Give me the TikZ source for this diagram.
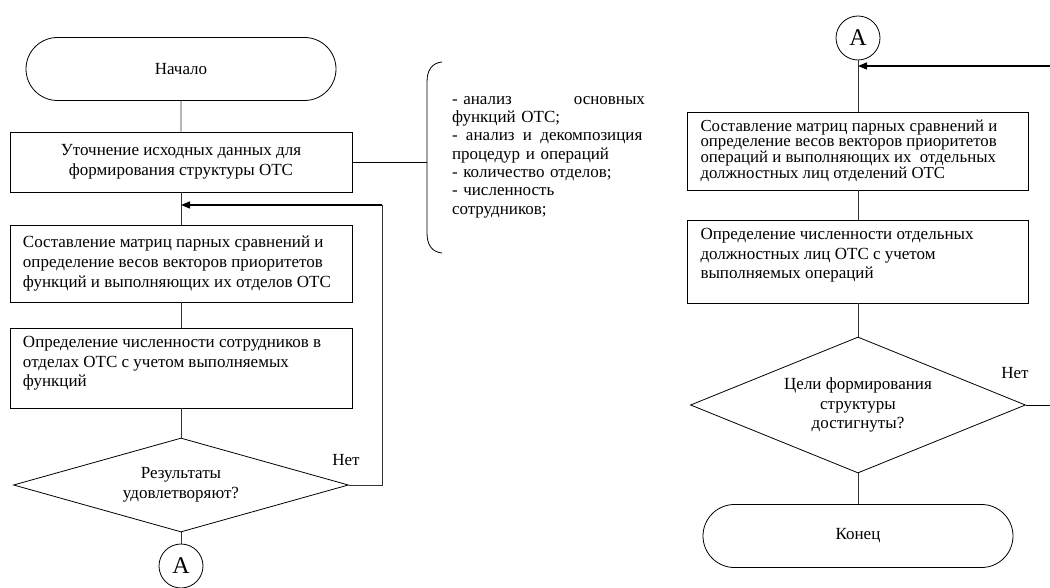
\documentclass[tikz,border=0pt]{standalone}
\usepackage{fontspec}
\setmainfont{Liberation Serif}
\usetikzlibrary{shapes.geometric,shapes.misc,arrows.meta}
\begin{document}
\begin{tikzpicture}[x=1pt,y=-1pt, line width=0.8pt,
  every node/.style={font=\fontsize{17}{19.8}\selectfont},
  term/.style={draw, rounded rectangle, minimum width=310pt, minimum height=63pt, inner sep=0pt},
  box/.style={draw, rectangle, inner sep=0pt},
  dec/.style={draw, diamond, inner sep=0pt, align=center},
  conn/.style={draw, circle, minimum size=44pt, inner sep=0pt, font=\fontsize{24}{26}\selectfont},
  line/.style={draw=black!80, line width=0.9pt},
  arr/.style={-{Triangle[length=9pt,width=7pt]}, line width=1.3pt},
  lbl/.style={inner sep=0pt}]
\useasboundingbox (0,0) rectangle (1050,588);

% left column
\node[term] (start) at (181,69) {Начало};
\node[box, minimum width=342pt, minimum height=60pt, align=center] (b1) at (181,162) {Уточнение исходных данных для\\формирования структуры ОТС};
\node[box, minimum width=342pt, minimum height=77pt] (b2) at (181,263.5) {\parbox{316pt}{\raggedright \mbox{Составление матриц парных сравнений и}\\\mbox{определение весов векторов приоритетов}\\\mbox{функций и выполняющих их отделов ОТС}}};
\node[box, minimum width=342pt, minimum height=80pt] (b3) at (181,368) {\parbox[c][64pt][t]{316pt}{\raggedright \mbox{Определение численности сотрудников в}\\\mbox{отделах ОТС с учетом выполняемых}\\функций}};
\node[dec, minimum width=335pt, minimum height=94pt, aspect=3.56] (d1) at (181,485) {Результаты\\удовлетворяют?};
\node[conn] (a1) at (181,566) {A};
\node[lbl] (n1) at (346,460) {Нет};

% brace and list
\coordinate (bm) at (427,162);
\draw (442,62) .. controls (432,63) and (427,70) .. (427,82) -- (427,233) .. controls (427,245) and (432,252) .. (442,253);
\node[lbl, text width=193pt, align=left, font=\fontsize{17}{18.3}\selectfont] (list) at (548.5,157) {\makebox[193pt][l]{- анализ\hfill основных}\\функций ОТС;\\\makebox[193pt][l]{-\hspace{0pt plus 1fil} анализ\hspace{0pt plus 1fil} и\hspace{0pt plus 1fil} декомпозиция}\\процедур и операций\\- количество отделов;\\- численность\\сотрудников;};

% right column
\node[conn] (a2) at (858,38) {A};
\node[box, minimum width=341pt, minimum height=78pt] (b4) at (858,151) {\parbox{315pt}{\fontsize{16.8}{15}\selectfont\raggedright \mbox{Составление матриц парных сравнений и}\\\mbox{определение весов векторов приоритетов}\\\mbox{операций и выполняющих их\ \ отдельных}\\\mbox{должностных лиц отделений ОТС}}};
\node[box, minimum width=341pt, minimum height=83pt] (b5) at (858,261.5) {\parbox[c][67pt][t]{315pt}{\raggedright \mbox{Определение численности отдельных}\\\mbox{должностных лиц ОТС с учетом}\\выполняемых операций}};
\node[dec, minimum width=335pt, minimum height=136pt, aspect=2.46] (d2) at (858,405) {Цели формирования\\структуры\\достигнуты?};
\node[term] (end) at (858,536) {Конец};
\node[lbl] (n2) at (1015,373) {Нет};

% connectors
\coordinate (j1) at (181,205);
\coordinate (r1) at (382,205);
\coordinate (j2) at (858,66);
\coordinate (r2) at (1050,66);
\coordinate (r3) at (1050,405);

\draw[line] (start) -- (b1);
\draw[line] (b1) -- (b2);
\draw (b1.east) -- (b1.east -| bm);
\draw[line] (b2) -- (b3);
\draw[line] (b3) -- (d1);
\draw[line] (d1) -- (a1);
\draw[line] (d1.east) -| (r1);
\draw[arr] (r1) -- (j1);

\draw[line] (a2) -- (b4);
\draw[arr] (r2) -- (j2);
\draw[line] (b4) -- (b5);
\draw[line] (b5) -- (d2);
\draw[line] (d2) -- (end);
\draw (d2.east) -- (r3);
\end{tikzpicture}
\end{document}
